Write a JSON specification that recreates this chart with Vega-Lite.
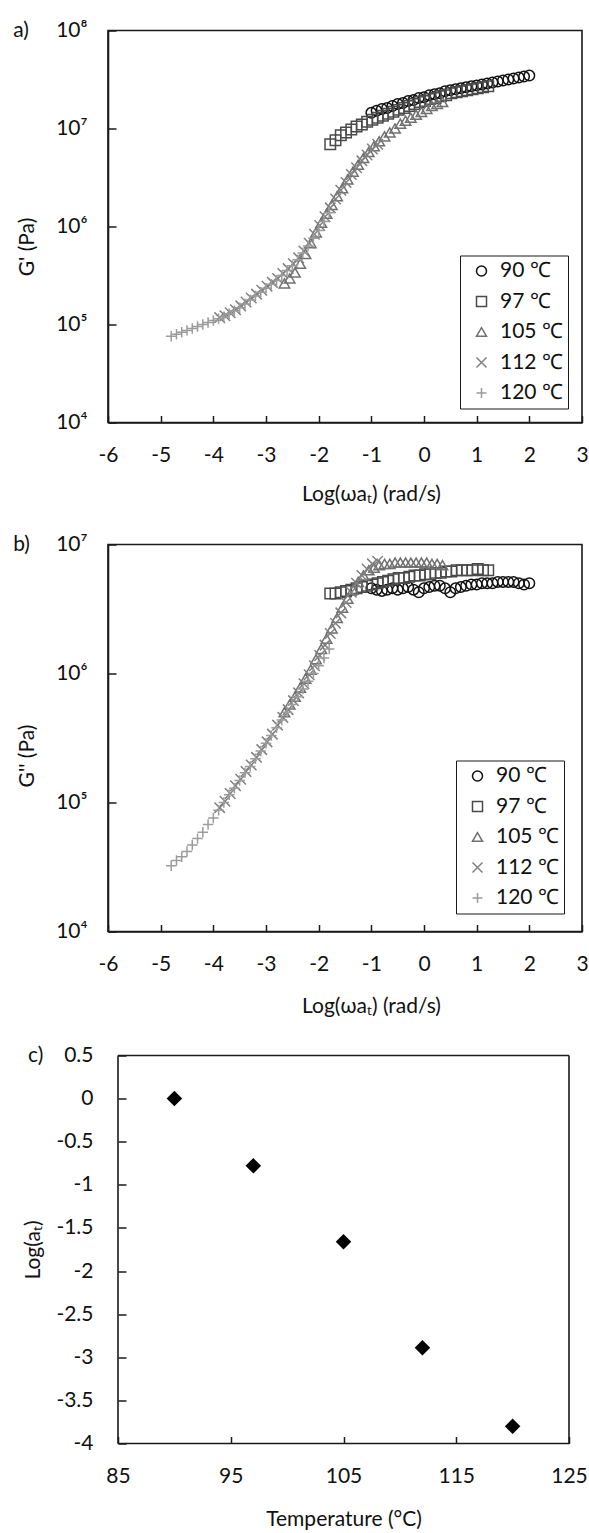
{
  "$schema": "https://vega.github.io/schema/vega-lite/v6.json",
  "background": "white",
  "padding": {"left": 12, "top": 18.5, "right": 0, "bottom": 0},
  "spacing": 27,
  "config": {
    "font": "Lato",
    "view": {"stroke": "#1a1a1a", "strokeWidth": 1.6},
    "axis": {
      "grid": false, "domain": true, "domainColor": "#1a1a1a", "domainWidth": 1.6,
      "tickColor": "#1a1a1a", "tickWidth": 1.5,
      "labelFont": "Lato", "labelFontSize": 21, "labelColor": "#111", "labelFlush": false, "labelOverlap": false,
      "titleFont": "Lato", "titleFontSize": 21, "titleFontWeight": "normal", "titleColor": "#111"
    },
    "axisX": {"tickSize": -7, "labelPadding": 28.5, "titlePadding": 18},
    "axisY": {"tickSize": -8, "labelPadding": 29, "titlePadding": 18.5},
    "legend": {
      "title": null, "padding": 5, "symbolOffset": 6, "rowPadding": 8.5, "labelOffset": 8,
      "labelFont": "Lato", "labelFontSize": 21, "labelColor": "#111",
      "symbolSize": 100, "symbolStrokeWidth": 1.5, "strokeColor": "#1a1a1a", "fillColor": "white"
    }
  },
  "resolve": {
    "scale": {"x": "independent", "y": "independent", "color": "independent", "shape": "independent"},
    "legend": {"color": "independent", "shape": "independent"}
  },
  "datasets": {
    "sweep": [
      {"T":"90 ℃","w":-1,"gp":1.445e7,"gpp":4.571e6},
      {"T":"90 ℃","w":-0.9,"gp":1.514e7,"gpp":4.467e6},
      {"T":"90 ℃","w":-0.8,"gp":1.585e7,"gpp":4.365e6},
      {"T":"90 ℃","w":-0.7,"gp":1.622e7,"gpp":4.467e6},
      {"T":"90 ℃","w":-0.6,"gp":1.698e7,"gpp":4.571e6},
      {"T":"90 ℃","w":-0.5,"gp":1.778e7,"gpp":4.467e6},
      {"T":"90 ℃","w":-0.4,"gp":1.820e7,"gpp":4.571e6},
      {"T":"90 ℃","w":-0.3,"gp":1.905e7,"gpp":4.677e6},
      {"T":"90 ℃","w":-0.2,"gp":1.950e7,"gpp":4.467e6},
      {"T":"90 ℃","w":-0.1,"gp":2.042e7,"gpp":4.266e6},
      {"T":"90 ℃","w":0,"gp":2.089e7,"gpp":4.571e6},
      {"T":"90 ℃","w":0.1,"gp":2.188e7,"gpp":4.677e6},
      {"T":"90 ℃","w":0.2,"gp":2.239e7,"gpp":4.786e6},
      {"T":"90 ℃","w":0.3,"gp":2.291e7,"gpp":4.786e6},
      {"T":"90 ℃","w":0.4,"gp":2.399e7,"gpp":4.571e6},
      {"T":"90 ℃","w":0.5,"gp":2.455e7,"gpp":4.266e6},
      {"T":"90 ℃","w":0.6,"gp":2.512e7,"gpp":4.571e6},
      {"T":"90 ℃","w":0.7,"gp":2.570e7,"gpp":4.677e6},
      {"T":"90 ℃","w":0.8,"gp":2.630e7,"gpp":4.786e6},
      {"T":"90 ℃","w":0.9,"gp":2.692e7,"gpp":4.898e6},
      {"T":"90 ℃","w":1,"gp":2.754e7,"gpp":4.898e6},
      {"T":"90 ℃","w":1.1,"gp":2.818e7,"gpp":5.012e6},
      {"T":"90 ℃","w":1.2,"gp":2.884e7,"gpp":5.012e6},
      {"T":"90 ℃","w":1.3,"gp":2.951e7,"gpp":5.012e6},
      {"T":"90 ℃","w":1.4,"gp":3.020e7,"gpp":5.129e6},
      {"T":"90 ℃","w":1.5,"gp":3.090e7,"gpp":5.129e6},
      {"T":"90 ℃","w":1.6,"gp":3.162e7,"gpp":5.129e6},
      {"T":"90 ℃","w":1.7,"gp":3.236e7,"gpp":5.129e6},
      {"T":"90 ℃","w":1.8,"gp":3.311e7,"gpp":5.012e6},
      {"T":"90 ℃","w":1.9,"gp":3.388e7,"gpp":4.898e6},
      {"T":"90 ℃","w":2,"gp":3.467e7,"gpp":5.012e6},

      {"T":"97 ℃","w":-1.78,"gp":6.918e6,"gpp":4.169e6},
      {"T":"97 ℃","w":-1.68,"gp":7.586e6,"gpp":4.169e6},
      {"T":"97 ℃","w":-1.58,"gp":8.511e6,"gpp":4.266e6},
      {"T":"97 ℃","w":-1.48,"gp":9.120e6,"gpp":4.365e6},
      {"T":"97 ℃","w":-1.38,"gp":9.772e6,"gpp":4.467e6},
      {"T":"97 ℃","w":-1.28,"gp":1.047e7,"gpp":4.571e6},
      {"T":"97 ℃","w":-1.18,"gp":1.096e7,"gpp":4.677e6},
      {"T":"97 ℃","w":-1.08,"gp":1.175e7,"gpp":4.786e6},
      {"T":"97 ℃","w":-0.98,"gp":1.230e7,"gpp":4.898e6},
      {"T":"97 ℃","w":-0.88,"gp":1.288e7,"gpp":5.012e6},
      {"T":"97 ℃","w":-0.78,"gp":1.349e7,"gpp":5.129e6},
      {"T":"97 ℃","w":-0.68,"gp":1.413e7,"gpp":5.248e6},
      {"T":"97 ℃","w":-0.58,"gp":1.479e7,"gpp":5.370e6},
      {"T":"97 ℃","w":-0.48,"gp":1.549e7,"gpp":5.495e6},
      {"T":"97 ℃","w":-0.38,"gp":1.622e7,"gpp":5.495e6},
      {"T":"97 ℃","w":-0.28,"gp":1.698e7,"gpp":5.623e6},
      {"T":"97 ℃","w":-0.18,"gp":1.778e7,"gpp":5.754e6},
      {"T":"97 ℃","w":-0.08,"gp":1.862e7,"gpp":5.754e6},
      {"T":"97 ℃","w":0.02,"gp":1.905e7,"gpp":5.888e6},
      {"T":"97 ℃","w":0.12,"gp":1.995e7,"gpp":5.888e6},
      {"T":"97 ℃","w":0.22,"gp":2.042e7,"gpp":6.026e6},
      {"T":"97 ℃","w":0.32,"gp":2.138e7,"gpp":6.026e6},
      {"T":"97 ℃","w":0.42,"gp":2.188e7,"gpp":6.166e6},
      {"T":"97 ℃","w":0.52,"gp":2.291e7,"gpp":6.166e6},
      {"T":"97 ℃","w":0.62,"gp":2.344e7,"gpp":6.310e6},
      {"T":"97 ℃","w":0.72,"gp":2.399e7,"gpp":6.310e6},
      {"T":"97 ℃","w":0.82,"gp":2.455e7,"gpp":6.310e6},
      {"T":"97 ℃","w":0.92,"gp":2.512e7,"gpp":6.310e6},
      {"T":"97 ℃","w":1.02,"gp":2.570e7,"gpp":6.457e6},
      {"T":"97 ℃","w":1.12,"gp":2.630e7,"gpp":6.310e6},
      {"T":"97 ℃","w":1.22,"gp":2.692e7,"gpp":6.310e6},

      {"T":"105 ℃","w":-2.65,"gp":2.630e5,"gpp":5.012e5},
      {"T":"105 ℃","w":-2.55,"gp":2.951e5,"gpp":5.754e5},
      {"T":"105 ℃","w":-2.45,"gp":3.388e5,"gpp":6.607e5},
      {"T":"105 ℃","w":-2.35,"gp":4.169e5,"gpp":7.762e5},
      {"T":"105 ℃","w":-2.25,"gp":5.248e5,"gpp":9.120e5},
      {"T":"105 ℃","w":-2.15,"gp":6.761e5,"gpp":1.072e6},
      {"T":"105 ℃","w":-2.05,"gp":8.710e5,"gpp":1.288e6},
      {"T":"105 ℃","w":-1.95,"gp":1.096e6,"gpp":1.549e6},
      {"T":"105 ℃","w":-1.85,"gp":1.349e6,"gpp":1.862e6},
      {"T":"105 ℃","w":-1.75,"gp":1.660e6,"gpp":2.239e6},
      {"T":"105 ℃","w":-1.65,"gp":2.042e6,"gpp":2.692e6},
      {"T":"105 ℃","w":-1.55,"gp":2.455e6,"gpp":3.236e6},
      {"T":"105 ℃","w":-1.45,"gp":3.020e6,"gpp":3.802e6},
      {"T":"105 ℃","w":-1.35,"gp":3.631e6,"gpp":4.467e6},
      {"T":"105 ℃","w":-1.25,"gp":4.266e6,"gpp":5.129e6},
      {"T":"105 ℃","w":-1.15,"gp":5.012e6,"gpp":5.754e6},
      {"T":"105 ℃","w":-1.05,"gp":5.754e6,"gpp":6.310e6},
      {"T":"105 ℃","w":-0.95,"gp":6.607e6,"gpp":6.607e6},
      {"T":"105 ℃","w":-0.85,"gp":7.413e6,"gpp":6.918e6},
      {"T":"105 ℃","w":-0.75,"gp":8.318e6,"gpp":7.079e6},
      {"T":"105 ℃","w":-0.65,"gp":9.120e6,"gpp":7.079e6},
      {"T":"105 ℃","w":-0.55,"gp":1.000e7,"gpp":7.244e6},
      {"T":"105 ℃","w":-0.45,"gp":1.122e7,"gpp":7.244e6},
      {"T":"105 ℃","w":-0.35,"gp":1.202e7,"gpp":7.244e6},
      {"T":"105 ℃","w":-0.25,"gp":1.288e7,"gpp":7.244e6},
      {"T":"105 ℃","w":-0.15,"gp":1.380e7,"gpp":7.244e6},
      {"T":"105 ℃","w":-0.05,"gp":1.479e7,"gpp":7.244e6},
      {"T":"105 ℃","w":0.05,"gp":1.585e7,"gpp":7.244e6},
      {"T":"105 ℃","w":0.15,"gp":1.698e7,"gpp":7.079e6},
      {"T":"105 ℃","w":0.25,"gp":1.778e7,"gpp":7.079e6},
      {"T":"105 ℃","w":0.35,"gp":1.862e7,"gpp":6.918e6},

      {"T":"112 ℃","w":-3.88,"gp":1.175e5,"gpp":9.120e4},
      {"T":"112 ℃","w":-3.78,"gp":1.230e5,"gpp":1.023e5},
      {"T":"112 ℃","w":-3.68,"gp":1.318e5,"gpp":1.175e5},
      {"T":"112 ℃","w":-3.58,"gp":1.413e5,"gpp":1.349e5},
      {"T":"112 ℃","w":-3.48,"gp":1.549e5,"gpp":1.514e5},
      {"T":"112 ℃","w":-3.38,"gp":1.698e5,"gpp":1.738e5},
      {"T":"112 ℃","w":-3.28,"gp":1.862e5,"gpp":1.950e5},
      {"T":"112 ℃","w":-3.18,"gp":2.042e5,"gpp":2.239e5},
      {"T":"112 ℃","w":-3.08,"gp":2.239e5,"gpp":2.570e5},
      {"T":"112 ℃","w":-2.98,"gp":2.455e5,"gpp":2.951e5},
      {"T":"112 ℃","w":-2.88,"gp":2.692e5,"gpp":3.388e5},
      {"T":"112 ℃","w":-2.78,"gp":2.951e5,"gpp":3.981e5},
      {"T":"112 ℃","w":-2.68,"gp":3.311e5,"gpp":4.571e5},
      {"T":"112 ℃","w":-2.58,"gp":3.715e5,"gpp":5.248e5},
      {"T":"112 ℃","w":-2.48,"gp":4.169e5,"gpp":6.166e5},
      {"T":"112 ℃","w":-2.38,"gp":4.786e5,"gpp":7.079e5},
      {"T":"112 ℃","w":-2.28,"gp":5.623e5,"gpp":8.318e5},
      {"T":"112 ℃","w":-2.18,"gp":6.761e5,"gpp":9.772e5},
      {"T":"112 ℃","w":-2.08,"gp":8.318e5,"gpp":1.148e6},
      {"T":"112 ℃","w":-1.98,"gp":1.023e6,"gpp":1.380e6},
      {"T":"112 ℃","w":-1.88,"gp":1.259e6,"gpp":1.660e6},
      {"T":"112 ℃","w":-1.78,"gp":1.549e6,"gpp":2.042e6},
      {"T":"112 ℃","w":-1.68,"gp":1.905e6,"gpp":2.455e6},
      {"T":"112 ℃","w":-1.58,"gp":2.344e6,"gpp":2.951e6},
      {"T":"112 ℃","w":-1.48,"gp":2.818e6,"gpp":3.548e6},
      {"T":"112 ℃","w":-1.38,"gp":3.388e6,"gpp":4.266e6},
      {"T":"112 ℃","w":-1.28,"gp":3.981e6,"gpp":5.012e6},
      {"T":"112 ℃","w":-1.18,"gp":4.677e6,"gpp":5.754e6},
      {"T":"112 ℃","w":-1.08,"gp":5.370e6,"gpp":6.457e6},
      {"T":"112 ℃","w":-0.98,"gp":6.166e6,"gpp":7.079e6},
      {"T":"112 ℃","w":-0.88,"gp":6.918e6,"gpp":7.413e6},

      {"T":"120 ℃","w":-4.8,"gp":7.586e4,"gpp":3.236e4},
      {"T":"120 ℃","w":-4.7,"gp":7.943e4,"gpp":3.548e4},
      {"T":"120 ℃","w":-4.6,"gp":8.318e4,"gpp":3.802e4},
      {"T":"120 ℃","w":-4.5,"gp":8.710e4,"gpp":4.169e4},
      {"T":"120 ℃","w":-4.4,"gp":9.120e4,"gpp":4.677e4},
      {"T":"120 ℃","w":-4.3,"gp":9.550e4,"gpp":5.248e4},
      {"T":"120 ℃","w":-4.2,"gp":1.000e5,"gpp":5.888e4},
      {"T":"120 ℃","w":-4.1,"gp":1.047e5,"gpp":6.761e4},
      {"T":"120 ℃","w":-4,"gp":1.096e5,"gpp":7.586e4},
      {"T":"120 ℃","w":-3.9,"gp":1.148e5,"gpp":8.710e4},
      {"T":"120 ℃","w":-3.8,"gp":1.202e5,"gpp":1.000e5},
      {"T":"120 ℃","w":-3.7,"gp":1.288e5,"gpp":1.148e5},
      {"T":"120 ℃","w":-3.6,"gp":1.380e5,"gpp":1.288e5},
      {"T":"120 ℃","w":-3.5,"gp":1.479e5,"gpp":1.479e5},
      {"T":"120 ℃","w":-3.4,"gp":1.622e5,"gpp":1.698e5},
      {"T":"120 ℃","w":-3.3,"gp":1.778e5,"gpp":1.905e5},
      {"T":"120 ℃","w":-3.2,"gp":1.950e5,"gpp":2.188e5},
      {"T":"120 ℃","w":-3.1,"gp":2.138e5,"gpp":2.512e5},
      {"T":"120 ℃","w":-3,"gp":2.344e5,"gpp":2.884e5},
      {"T":"120 ℃","w":-2.9,"gp":2.570e5,"gpp":3.311e5},
      {"T":"120 ℃","w":-2.8,"gp":2.818e5,"gpp":3.802e5},
      {"T":"120 ℃","w":-2.7,"gp":3.162e5,"gpp":4.365e5},
      {"T":"120 ℃","w":-2.6,"gp":3.548e5,"gpp":5.012e5},
      {"T":"120 ℃","w":-2.5,"gp":3.981e5,"gpp":5.754e5},
      {"T":"120 ℃","w":-2.4,"gp":4.571e5,"gpp":6.607e5},
      {"T":"120 ℃","w":-2.3,"gp":5.370e5,"gpp":7.586e5},
      {"T":"120 ℃","w":-2.2,"gp":6.310e5,"gpp":8.710e5},
      {"T":"120 ℃","w":-2.1,"gp":7.586e5,"gpp":1.000e6},
      {"T":"120 ℃","w":-2,"gp":9.120e5,"gpp":1.148e6},
      {"T":"120 ℃","w":-1.9,"gp":1.122e6,"gpp":1.318e6},
      {"T":"120 ℃","w":-1.8,"gp":1.380e6,"gpp":1.549e6}
    ],
    "shift": [
      {"T": 90, "la": 0},
      {"T": 97, "la": -0.78},
      {"T": 105, "la": -1.66},
      {"T": 112, "la": -2.89},
      {"T": 120, "la": -3.8}
    ]
  },
  "vconcat": [
    {
      "width": 474,
      "height": 392,
      "layer": [
        {
          "data": {"name": "sweep"},
          "mark": {"type": "point", "filled": false, "size": 110, "strokeWidth": 1.5, "opacity": 1},
          "encoding": {
            "x": {
              "field": "w", "type": "quantitative",
              "scale": {"domain": [-6, 3], "nice": false, "zero": false},
              "axis": {"values": [-6, -5, -4, -3, -2, -1, 0, 1, 2, 3], "labelExpr": "replace(datum.label, '−', '-')", "title": "Log(ωaₜ) (rad/s)", "titleX": 263}
            },
            "y": {
              "field": "gp", "type": "quantitative",
              "scale": {"type": "log", "domain": [10000, 100000000], "nice": false},
              "axis": {"values": [10000, 100000, 1000000, 10000000, 100000000], "labelExpr": "'10' + ['⁰','¹','²','³','⁴','⁵','⁶','⁷','⁸'][round(log(datum.value) / LN10)]", "title": "G' (Pa)", "titleY": 216}
            },
            "color": {
              "field": "T", "type": "nominal",
              "scale": {"domain": ["90 ℃", "97 ℃", "105 ℃", "112 ℃", "120 ℃"], "range": ["#111111", "#4a4a4a", "#707070", "#808080", "#9c9c9c"]},
              "legend": {"orient": "bottom-right", "offset": 14, "encode": {"legend": {"update": {"strokeWidth": {"value": 1.5}}}}}
            },
            "shape": {
              "field": "T", "type": "nominal",
              "scale": {"domain": ["90 ℃", "97 ℃", "105 ℃", "112 ℃", "120 ℃"], "range": ["circle", "square", "triangle-up", "M-1,-1L1,1M-1,1L1,-1", "M-1,0L1,0M0,-1L0,1"]},
              "legend": {"orient": "bottom-right", "offset": 14, "encode": {"legend": {"update": {"strokeWidth": {"value": 1.5}}}}}
            }
          }
        },
        {
          "data": {"values": [{"label": "a)"}]},
          "mark": {"type": "text", "align": "left", "baseline": "middle", "font": "Lato", "fontSize": 21, "color": "#111"},
          "encoding": {
            "x": {"datum": -7.8},
            "y": {"datum": 100000000},
            "text": {"field": "label"}
          }
        }
      ]
    },
    {
      "width": 474,
      "height": 387,
      "layer": [
        {
          "data": {"name": "sweep"},
          "mark": {"type": "point", "filled": false, "size": 110, "strokeWidth": 1.5, "opacity": 1},
          "encoding": {
            "x": {
              "field": "w", "type": "quantitative",
              "scale": {"domain": [-6, 3], "nice": false, "zero": false},
              "axis": {"values": [-6, -5, -4, -3, -2, -1, 0, 1, 2, 3], "labelExpr": "replace(datum.label, '−', '-')", "title": "Log(ωaₜ) (rad/s)", "titleX": 263, "titlePadding": 21.5}
            },
            "y": {
              "field": "gpp", "type": "quantitative",
              "scale": {"type": "log", "domain": [10000, 10000000], "nice": false},
              "axis": {"values": [10000, 100000, 1000000, 10000000], "labelExpr": "'10' + ['⁰','¹','²','³','⁴','⁵','⁶','⁷','⁸'][round(log(datum.value) / LN10)]", "title": "G'' (Pa)", "titleY": 211}
            },
            "color": {
              "field": "T", "type": "nominal",
              "scale": {"domain": ["90 ℃", "97 ℃", "105 ℃", "112 ℃", "120 ℃"], "range": ["#111111", "#4a4a4a", "#707070", "#808080", "#9c9c9c"]},
              "legend": {"orient": "bottom-right", "offset": 18, "encode": {"legend": {"update": {"strokeWidth": {"value": 1.5}}}}}
            },
            "shape": {
              "field": "T", "type": "nominal",
              "scale": {"domain": ["90 ℃", "97 ℃", "105 ℃", "112 ℃", "120 ℃"], "range": ["circle", "square", "triangle-up", "M-1,-1L1,1M-1,1L1,-1", "M-1,0L1,0M0,-1L0,1"]},
              "legend": {"orient": "bottom-right", "offset": 18, "encode": {"legend": {"update": {"strokeWidth": {"value": 1.5}}}}}
            }
          }
        },
        {
          "data": {"values": [{"label": "b)"}]},
          "mark": {"type": "text", "align": "left", "baseline": "middle", "font": "Lato", "fontSize": 21, "color": "#111"},
          "encoding": {
            "x": {"datum": -7.8},
            "y": {"datum": 10000000},
            "text": {"field": "label"}
          }
        }
      ]
    },
    {
      "width": 471,
      "height": 398,
      "view": {"stroke": null},
      "layer": [
        {
          "data": {"name": "shift"},
          "mark": {"type": "point", "shape": "diamond", "filled": true, "size": 240, "color": "#000", "opacity": 1},
          "encoding": {
            "x": {
              "field": "T", "type": "quantitative",
              "scale": {"domain": [85, 125], "range": [10, 461], "nice": false, "zero": false},
              "axis": {"values": [85, 95, 105, 115, 125], "title": "Temperature (°C)", "titlePadding": 22.5, "offset": -5, "domain": false}
            },
            "y": {
              "field": "la", "type": "quantitative",
              "scale": {"domain": [-4, 0.5], "range": [393, 5], "nice": false, "zero": false},
              "axis": {"values": [-4, -3.5, -3, -2.5, -2, -1.5, -1, -0.5, 0, 0.5], "format": "~g", "labelExpr": "replace(datum.label, '−', '-')", "title": "Log(aₜ)", "offset": -10, "labelPadding": 33, "titlePadding": 12.5, "domain": false}
            }
          }
        },
        {
          "data": {"values": [{"edge": "left"}]},
          "mark": {"type": "rule", "color": "#1a1a1a", "strokeWidth": 1.6},
          "encoding": {"x": {"datum": 85}, "y": {"datum": -4}, "y2": {"datum": 0.5}}
        },
        {
          "data": {"values": [{"edge": "right"}]},
          "mark": {"type": "rule", "color": "#1a1a1a", "strokeWidth": 1.6},
          "encoding": {"x": {"datum": 125}, "y": {"datum": -4}, "y2": {"datum": 0.5}}
        },
        {
          "data": {"values": [{"edge": "top"}]},
          "mark": {"type": "rule", "color": "#1a1a1a", "strokeWidth": 1.6},
          "encoding": {"y": {"datum": 0.5}, "x": {"datum": 85}, "x2": {"datum": 125}}
        },
        {
          "data": {"values": [{"edge": "bottom"}]},
          "mark": {"type": "rule", "color": "#1a1a1a", "strokeWidth": 1.6},
          "encoding": {"y": {"datum": -4}, "x": {"datum": 85}, "x2": {"datum": 125}}
        },
        {
          "data": {"values": [{"label": "c)"}]},
          "mark": {"type": "text", "align": "left", "baseline": "middle", "font": "Lato", "fontSize": 21, "color": "#111"},
          "encoding": {
            "x": {"datum": 77.02},
            "y": {"datum": 0.5},
            "text": {"field": "label"}
          }
        }
      ]
    }
  ]
}
